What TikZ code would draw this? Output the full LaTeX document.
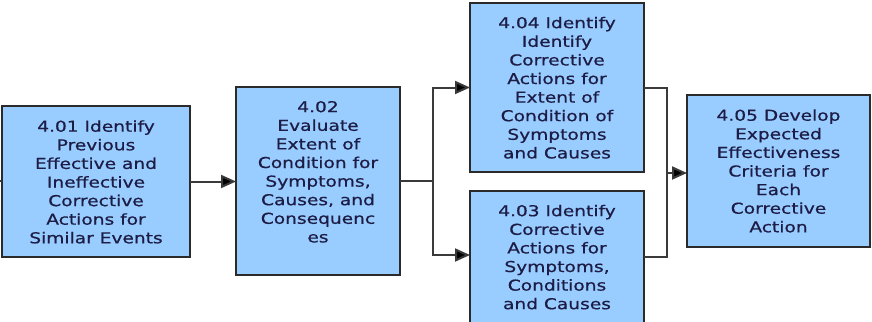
\documentclass[tikz,border=0pt]{standalone}
\usepackage{fontspec}
\setmainfont{DejaVu Sans}[FakeStretch=1.24,FakeBold=0.6]
\usetikzlibrary{arrows.meta}
\definecolor{boxfill}{HTML}{99CCFF}
\definecolor{boxline}{HTML}{2A2A2A}
\definecolor{txt}{HTML}{1C1C44}
\definecolor{wirec}{HTML}{3A3A3A}
\newcommand{\fs}{\rule{0pt}{11.5pt}}
\begin{document}
\begin{tikzpicture}[x=1pt,y=-1pt,
  box/.style={draw=boxline, line width=1.8pt, fill=boxfill, inner sep=0pt, outer sep=0pt},
  lbl/.style={anchor=north, inner sep=0pt, align=center, text=txt, font=\fontsize{15}{18.6}\selectfont},
  wire/.style={draw=wirec, line width=2pt},
  arr/.style={wire, -{Triangle[length=15pt,width=13pt,fill=black]}}]
\useasboundingbox (0,0) rectangle (872,321);
% boxes
\node[box, minimum width=188pt, minimum height=151pt] (A) at (96,181.5) {};
\node[box, minimum width=164pt, minimum height=188pt] (B) at (318,181) {};
\node[box, minimum width=174pt, minimum height=169pt] (D) at (557,87.5) {};
\node[box, minimum width=174pt, minimum height=139pt] (C) at (557,260.5) {};
\node[box, minimum width=183pt, minimum height=152pt] (E) at (778.5,171) {};
% labels
\node[lbl] (At) at ([yshift=-14pt]A.north) {\fs 4.01 Identify\\Previous\\Effective and\\Ineffective\\Corrective\\Actions for\\Similar Events};
\node[lbl] (Bt) at ([yshift=-13.5pt]B.north) {\fs 4.02\\Evaluate\\Extent of\\Condition for\\Symptoms,\\Causes, and\\Consequenc\\es};
\node[lbl] (Dt) at ([yshift=-13.5pt]D.north) {\fs 4.04 Identify\\Identify\\Corrective\\Actions for\\Extent of\\Condition of\\Symptoms\\and Causes};
\node[lbl] (Ct) at ([yshift=-13.5pt]C.north) {\fs 4.03 Identify\\Corrective\\Actions for\\Symptoms,\\Conditions\\and Causes};
\node[lbl] (Et) at ([yshift=-14pt]E.north) {\fs 4.05 Develop\\Expected\\Effectiveness\\Criteria for\\Each\\Corrective\\Action};
% connectors
\coordinate (s) at (0,181);
\coordinate (j1) at (433,181);
\coordinate (j2) at (667,173);
\draw[wire] (s) -- (s -| A.west);
\draw[arr] (A.east) -- (A.east -| B.west);
\draw[wire] (B.east) -- (j1);
\draw[arr] (j1) |- (D.west);
\draw[arr] (j1) |- ([yshift=5.5pt]C.west);
\draw[wire] (D.east) -| (j2) |- ([yshift=3.5pt]C.east);
\draw[arr] (j2) -- (j2 -| E.west);
\end{tikzpicture}
\end{document}
